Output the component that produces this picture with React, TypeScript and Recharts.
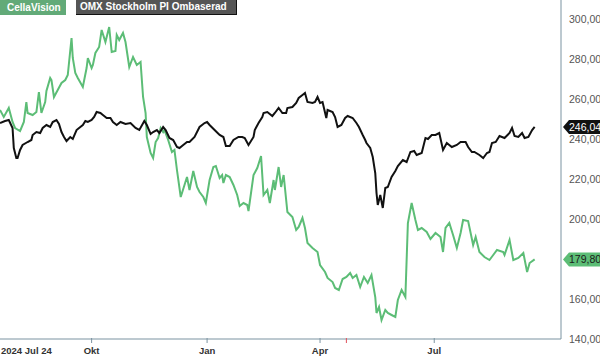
import React from "react";
import {
  LineChart,
  Line,
  XAxis,
  YAxis,
  ReferenceDot,
} from "recharts";

// days counted from 2024-07-24
const cellaDays = [
  -4, -1, 3, 6, 8, 12, 15, 17, 18, 22, 25, 27, 29, 32, 33, 36, 37, 39, 42, 45,
  48, 50, 53, 54, 56, 58, 62, 65, 66, 69, 70, 72, 75, 77, 80, 83, 85, 88, 89, 91,
  94, 96, 99, 102, 105, 108, 110, 112, 113, 116, 118, 120, 122, 124, 126, 127, 130, 133, 135, 137,
  140, 143, 145, 147, 150, 153, 155, 158, 160, 163, 166, 168, 171, 173, 174, 176, 179, 182, 185, 187,
  190, 193, 194, 198, 201, 204, 206, 209, 211, 214, 215, 218, 220, 222, 225, 229, 232, 234, 237, 239,
  241, 245, 249, 251, 255, 257, 261, 263, 266, 269, 272, 275, 277, 280, 283, 286, 289, 292, 295, 296,
  298, 300, 303, 305, 308, 311, 313, 316, 319, 321, 324, 327, 329, 332, 336, 339, 343, 347, 349, 351,
  354, 357, 360, 363, 365, 369, 373, 375, 378, 382, 386, 389, 392, 397, 398, 402, 405, 409, 413, 416,
  418, 422,
];
const cellaValues = [
  254.5, 251.0, 255.5, 248.5, 245.5, 244.0, 248.5, 258.5, 253.0, 252.0, 253.5, 263.5, 253.0, 258.5, 264.0, 270.5, 269.5, 261.0, 264.5, 268.0,
  269.5, 272.0, 290.5, 280.5, 273.0, 270.5, 266.0, 275.5, 280.5, 275.5, 277.0, 283.0, 286.0, 294.5, 288.5, 296.0, 283.5, 284.0, 292.0, 289.5,
  293.0, 288.5, 276.0, 281.0, 277.0, 278.5, 261.0, 253.0, 241.0, 233.0, 230.5, 238.5, 240.5, 245.5, 243.5, 244.5, 239.5, 233.5, 234.5, 224.5,
  211.0, 217.0, 221.0, 214.5, 224.0, 216.0, 213.5, 211.0, 208.0, 219.5, 226.0, 226.5, 220.5, 222.0, 218.0, 222.0, 221.0, 217.0, 212.0, 206.5,
  208.0, 207.0, 204.0, 222.0, 225.5, 231.5, 212.0, 214.5, 208.0, 219.5, 214.5, 226.0, 216.0, 222.0, 203.5, 201.0, 194.5, 196.0, 200.5, 195.5,
  188.0, 185.5, 183.5, 177.0, 173.5, 170.5, 168.5, 165.5, 164.5, 170.0, 171.0, 173.0, 170.5, 172.0, 166.0, 171.0, 168.0, 172.0, 161.0, 153.0,
  156.0, 149.5, 154.5, 153.0, 152.0, 151.0, 159.5, 164.5, 161.0, 198.0, 208.0, 199.5, 194.5, 195.5, 193.5, 190.0, 193.0, 191.0, 183.5, 195.5,
  198.0, 192.0, 185.5, 193.0, 199.5, 199.0, 187.0, 191.0, 183.5, 181.0, 179.5, 182.0, 184.5, 183.5, 182.0, 189.5, 179.5, 180.5, 183.0, 173.5,
  178.0, 179.8,
];

const omxDays = [
  -4, 0, 3, 6, 7, 9, 10, 12, 14, 18, 21, 22, 25, 28, 30, 33, 36, 38, 41, 43,
  45, 47, 49, 52, 54, 57, 59, 62, 64, 66, 69, 71, 73, 76, 78, 81, 84, 86, 89, 92,
  96, 100, 104, 107, 111, 113, 116, 118, 121, 123, 126, 128, 131, 134, 137, 139, 142, 145, 147, 151,
  155, 159, 161, 163, 167, 171, 174, 176, 179, 182, 186, 189, 191, 194, 198, 199, 202, 205, 206, 209,
  213, 215, 218, 221, 224, 225, 229, 232, 234, 237, 239, 241, 245, 247, 249, 251, 253, 256, 257, 261,
  263, 265, 268, 271, 273, 277, 280, 282, 285, 287, 288, 291, 293, 295, 296, 297, 299, 301, 303, 305,
  308, 311, 313, 317, 320, 323, 326, 328, 332, 335, 337, 340, 343, 346, 349, 352, 356, 360, 363, 367,
  369, 372, 374, 378, 381, 384, 386, 388, 391, 394, 398, 402, 404, 406, 409, 412, 414, 417, 420, 422,
];
const omxValues = [
  248.0, 249.0, 249.5, 245.5, 235.5, 230.5, 230.5, 234.5, 237.0, 238.5, 239.5, 242.0, 243.5, 243.0, 245.5, 247.0, 246.0, 248.5, 249.5, 247.5,
  243.5, 241.0, 239.0, 241.0, 240.0, 244.5, 245.5, 247.0, 249.0, 248.5, 249.5, 251.0, 253.5, 253.0, 252.0, 250.5, 250.5, 248.5, 247.0, 248.5,
  247.5, 248.0, 245.5, 244.5, 249.0, 247.0, 242.5, 243.5, 244.5, 243.0, 246.0, 244.5, 240.5, 239.5, 236.0, 235.5, 237.0, 238.5, 238.5, 241.0,
  246.0, 248.0, 248.5, 247.0, 244.5, 242.0, 241.0, 236.5, 236.5, 239.5, 241.0, 241.0, 240.5, 237.0, 241.0, 244.5, 248.0, 251.0, 253.0, 253.5,
  251.5, 253.0, 255.5, 253.0, 253.0, 255.5, 256.0, 258.0, 260.5, 262.0, 263.0, 258.5, 258.0, 258.5, 261.0, 258.0, 258.5, 250.5, 254.5, 253.5,
  251.0, 246.0, 247.0, 250.5, 251.5, 250.5, 248.0, 246.0, 242.0, 239.5, 238.0, 235.5, 231.0, 223.0, 213.0, 207.0, 212.0, 205.5, 215.5, 216.0,
  221.0, 224.0, 226.5, 229.5, 228.5, 233.5, 234.0, 232.0, 233.0, 240.5, 240.0, 242.0, 242.0, 243.0, 234.5, 238.0, 236.0, 237.0, 238.5, 238.5,
  236.0, 233.5, 233.5, 232.0, 230.5, 233.0, 233.5, 238.0, 238.5, 241.5, 240.5, 243.0, 245.5, 241.5, 241.0, 243.0, 240.5, 241.0, 244.5, 246.04,
];

const xTicks = [0, 69, 161, 251, 272, 342];
const xTickLabels = ["2024 Jul 24", "Okt", "Jan", "Apr", "", "Jul"];
const reportDay = 272;
// 180,00 sits under the CellaVision price tag in the original, so it is left out
const yTicks = [140, 160, 200, 220, 240, 260, 280, 300];

const GREEN = "#5cbd76";
const AXIS = "#7b93a1";
const FONT = '"Liberation Sans", Arial, sans-serif';

const cellaData = cellaDays.map((d, i) => ({ day: d, cella: cellaValues[i] }));
const omxData = omxDays.map((d, i) => ({ day: d, omx: omxValues[i] }));

const fmt = (v: number) => v.toFixed(2).replace(".", ",");

function DateTick(props: any) {
  const { x, y, payload } = props;
  const idx = xTicks.indexOf(payload.value);
  const label = xTickLabels[idx] ?? "";
  const first = idx === 0;
  const red = payload.value === reportDay;
  return (
    <g>
      {!first && (
        <line x1={x} x2={x} y1={y - 1} y2={y + 4} stroke={red ? "#e0505a" : AXIS} strokeWidth={1} />
      )}
      {label && (
        <text
          x={first ? x - 4 : x}
          y={y + 15}
          textAnchor={first ? "start" : "middle"}
          fontFamily={FONT}
          fontSize={9.5}
          fontWeight="bold"
          fill="#333"
        >
          {label}
        </text>
      )}
    </g>
  );
}

function PriceTag(props: any) {
  const { cx, cy, fill, color, text } = props;
  const x = cx + 2;
  return (
    <g>
      <polygon
        points={`${x},${cy} ${x + 6},${cy - 7} ${x + 40},${cy - 7} ${x + 40},${cy + 7} ${x + 6},${cy + 7}`}
        fill={fill}
      />
      <text x={x + 6} y={cy + 4} fontFamily={FONT} fontSize={10.5} fill={color}>
        {text}
      </text>
    </g>
  );
}

export default function App() {
  const lastOmx = omxValues[omxValues.length - 1];
  const lastCella = cellaValues[cellaValues.length - 1];
  return (
    <div style={{ position: "relative", width: 600, height: 357, background: "#fff", fontFamily: FONT }}>
      <style>{`body{margin:0}`}</style>
      <LineChart width={600} height={357} margin={{ top: 0, right: 0, bottom: 0, left: 0 }}>
        <XAxis
          type="number"
          dataKey="day"
          domain={[-4, 443]}
          ticks={xTicks}
          interval={0}
          tick={<DateTick />}
          tickLine={false}
          tickSize={0}
          tickMargin={0}
          axisLine={{ stroke: AXIS }}
          height={18}
          allowDataOverflow
        />
        <YAxis
          orientation="right"
          domain={[140, 309.5]}
          ticks={yTicks}
          interval={0}
          width={39}
          tickLine={false}
          tickSize={0}
          tickMargin={8}
          axisLine={{ stroke: AXIS }}
          tickFormatter={fmt}
          tick={{ fontSize: 10.5, fill: "#555", fontFamily: FONT, textAnchor: "start" }}
          allowDataOverflow
        />
        <Line
          data={cellaData}
          dataKey="cella"
          stroke={GREEN}
          strokeWidth={2}
          dot={false}
          isAnimationActive={false}
        />
        <Line
          data={omxData}
          dataKey="omx"
          stroke="#111"
          strokeWidth={2}
          dot={false}
          isAnimationActive={false}
        />
        <ReferenceDot
          x={443}
          y={lastOmx}
          r={0}
          ifOverflow="visible"
          shape={(p: any) => <PriceTag {...p} fill="#111" color="#fff" text={fmt(lastOmx)} />}
        />
        <ReferenceDot
          x={443}
          y={lastCella}
          r={0}
          ifOverflow="visible"
          shape={(p: any) => <PriceTag {...p} fill={GREEN} color="#1a1a1a" text={fmt(lastCella)} />}
        />
      </LineChart>
      <div
        style={{
          position: "absolute",
          left: 0,
          top: 0,
          width: 66,
          height: 15,
          background: "#62aa78",
          color: "#fff",
          fontSize: 10,
          fontWeight: "bold",
          lineHeight: "15px",
          paddingLeft: 7,
          boxSizing: "border-box",
        }}
      >
        CellaVision
      </div>
      <div
        style={{
          position: "absolute",
          left: 76,
          top: 0,
          width: 161,
          height: 15,
          background: "#555",
          color: "#fff",
          fontSize: 10,
          fontWeight: "bold",
          lineHeight: "14px",
          paddingLeft: 4,
          boxSizing: "border-box",
          borderBottom: "1px solid #111",
          borderRight: "1px solid #111",
        }}
      >
        OMX Stockholm PI Ombaserad
      </div>
    </div>
  );
}
